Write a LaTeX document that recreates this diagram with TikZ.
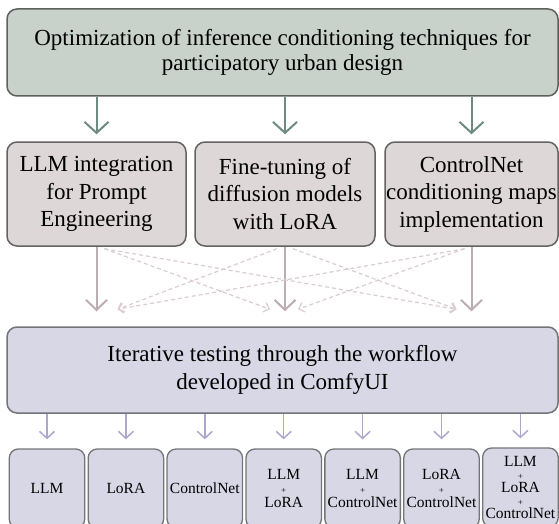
\documentclass[tikz,border=0pt]{standalone}
\usepackage{fontspec}
\setmainfont{Liberation Serif}
\usetikzlibrary{arrows.meta,calc}

\definecolor{goalfill}{HTML}{C8D2CB}
\definecolor{goalline}{HTML}{5E605E}
\definecolor{goalarrow}{HTML}{6E8B7F}
\definecolor{techfill}{HTML}{DED7D8}
\definecolor{techline}{HTML}{646262}
\definecolor{techarrow}{HTML}{BCAEB0}
\definecolor{crossarrow}{HTML}{D9CDCE}
\definecolor{testfill}{HTML}{D7D7E6}
\definecolor{testline}{HTML}{747478}
\definecolor{testarrow}{HTML}{ABA8CB}

\newcommand{\plusline}{{\fontsize{9}{9}\selectfont +}}

\begin{document}
\begin{tikzpicture}[x=1pt,y=-1pt,
  roundbox/.style={draw, rounded corners=10pt, line width=1.5pt, inner sep=0pt,
    align=center, text=black},
  goalbox/.style={roundbox, fill=goalfill, draw=goalline,
    minimum width=551pt, minimum height=87pt,
    font=\fontsize{23}{25}\selectfont},
  techbox/.style={roundbox, fill=techfill, draw=techline,
    minimum height=104pt, font=\fontsize{23}{27.5}\selectfont},
  testbox/.style={roundbox, fill=testfill, draw=testline,
    minimum width=551pt, minimum height=86pt,
    font=\fontsize{23}{28}\selectfont},
  variantbox/.style={roundbox, fill=testfill, draw=testline, line width=1.3pt,
    minimum width=75.5pt, minimum height=79pt, rounded corners=9pt,
    font=\fontsize{15.5}{14}\selectfont},
  goalflow/.style={draw=goalarrow, line width=2pt,
    -{Straight Barb[length=11pt,width=24pt,line width=2pt]}},
  techflow/.style={draw=techarrow, line width=2pt,
    -{Straight Barb[length=10pt,width=21pt,line width=2pt]}},
  crossflow/.style={draw=crossarrow, line width=1.2pt, dash pattern=on 4pt off 3pt,
    -{Straight Barb[length=5pt,width=10pt,line width=1.2pt]}},
  testflow/.style={draw=testarrow, line width=1.5pt,
    -{Straight Barb[length=7pt,width=15pt,line width=1.5pt]}},
]
\useasboundingbox (0,0) rectangle (559,524);

% overall goal
\node[goalbox] (goal) at (282.5,52.5)
  {Optimization of inference conditioning techniques for\\participatory urban design};

% the three techniques
\node[techbox, minimum width=179pt] (llm)  at (96.5,194) {LLM integration\\for Prompt\\Engineering};
\node[techbox, minimum width=180pt] (lora) at (285,194) {Fine-tuning of\\diffusion models\\with LoRA};
\node[techbox, minimum width=173pt] (cnet) at (471.5,194) {ControlNet\\conditioning maps\\implementation};

% testing stage
\node[testbox] (test) at (282.5,370)
  {Iterative testing through the workflow\\developed in ComfyUI};

% tested combinations
\node[variantbox] (v1) at (47.0,488.5) {LLM};
\node[variantbox] (v2) at (125.9,488.5) {LoRA};
\node[variantbox] (v3) at (204.8,488.5) {ControlNet};
\node[variantbox] (v4) at (283.7,488.5) {LLM\\\plusline\\LoRA};
\node[variantbox] (v5) at (362.6,488.5) {LLM\\\plusline\\ControlNet};
\node[variantbox] (v6) at (441.5,488.5) {LoRA\\\plusline\\ControlNet};
\node[variantbox, font=\fontsize{15.5}{13.2}\selectfont] (v7) at (520.4,487.5)
  {LLM\\\plusline\\LoRA\\\plusline\\ControlNet};

% goal to techniques
\foreach \t in {llm,lora,cnet}
  \draw[goalflow, shorten >=7pt] (goal.south -| \t.north) -- (\t.north);

% techniques to testing
\foreach \t in {llm,lora,cnet}
  \draw[techflow, shorten >=15pt] (\t.south) -- (test.north -| \t.south);

% cross links between techniques and testing
\draw[crossflow] ($(llm.south)+(8,2)$)   -- ($(test.north -| lora.south)+(-15,-17)$);
\draw[crossflow] ($(llm.south)+(8,2)$)   -- ($(test.north -| cnet.south)+(-15,-17)$);
\draw[crossflow] ($(lora.south)+(-8,2)$) -- ($(test.north -| llm.south)+(21,-17)$);
\draw[crossflow] ($(lora.south)+(8,2)$)  -- ($(test.north -| cnet.south)+(-15,-17)$);
\draw[crossflow] ($(cnet.south)+(-7,2)$) -- ($(test.north -| lora.south)+(13,-17)$);
\draw[crossflow] ($(cnet.south)+(-7,2)$) -- ($(test.north -| llm.south)+(21,-17)$);

% testing to combinations
\foreach \v in {v1,v2,v3,v4,v5,v6,v7}
  \draw[testflow, shorten >=9pt] (test.south -| \v.north) -- (\v.north);
\end{tikzpicture}
\end{document}
